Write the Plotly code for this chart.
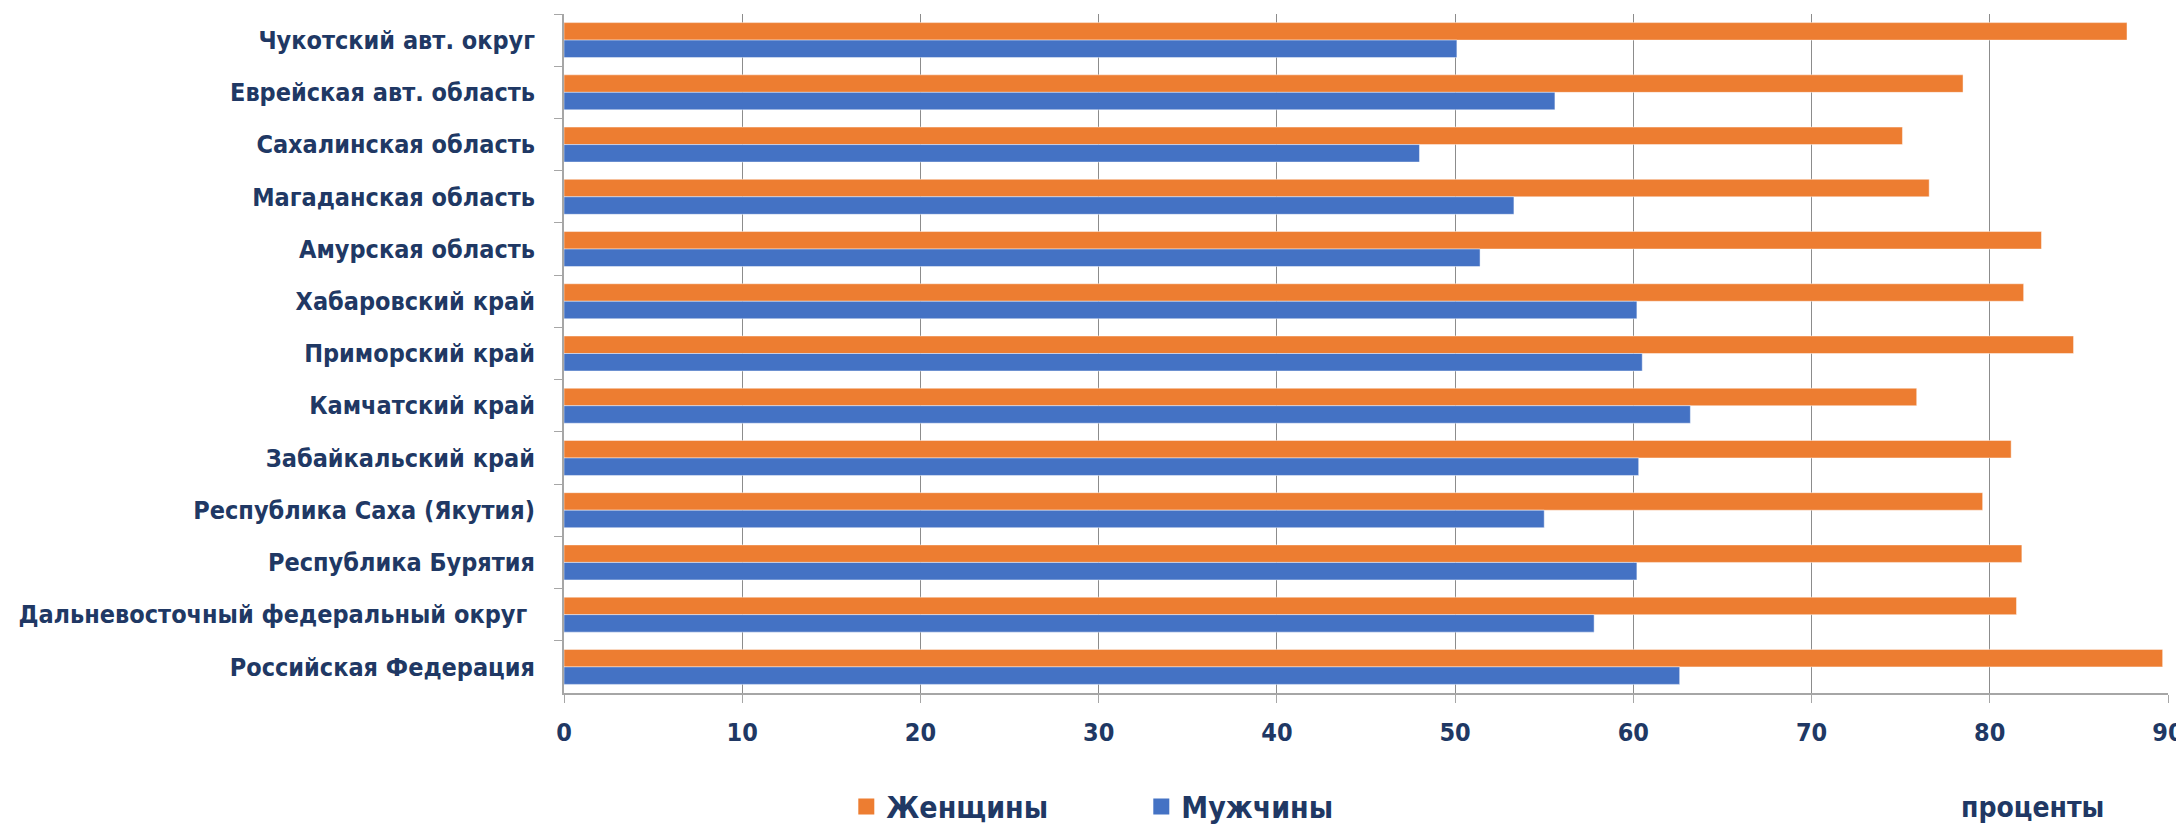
import plotly.graph_objects as go

regions = [
    "Чукотский авт. округ",
    "Еврейская авт. область",
    "Сахалинская область",
    "Магаданская область",
    "Амурская область",
    "Хабаровский край",
    "Приморский край",
    "Камчатский край",
    "Забайкальский край",
    "Республика Саха (Якутия)",
    "Республика Бурятия",
    "Дальневосточный федеральный округ ",
    "Российская Федерация",
]
women = [87.7, 78.5, 75.1, 76.6, 82.9, 81.9, 84.7, 75.9, 81.2, 79.6, 81.8, 81.5, 89.7]
men = [50.1, 55.6, 48.0, 53.3, 51.4, 60.2, 60.5, 63.2, 60.3, 55.0, 60.2, 57.8, 62.6]
x_ticks = [0, 10, 20, 30, 40, 50, 60, 70, 80, 90]
series_names = ["Женщины", "Мужчины"]
series_colors = ["#ED7D31", "#4472C4"]

NAVY = "#203864"
FONT = "Liberation Sans Narrow, Arial Narrow, DejaVu Sans Condensed, Liberation Sans, sans-serif"

fig = go.Figure()
for name, vals, col in zip(series_names, [women, men], series_colors):
    fig.add_trace(go.Bar(
        y=regions, x=vals, name=name, orientation="h", showlegend=False,
        marker=dict(color=col, line=dict(color="rgba(255,255,255,0.45)", width=1)),
    ))
# legend entries with larger square swatches
for name, col in zip(series_names, series_colors):
    fig.add_trace(go.Scatter(
        x=[None], y=[None], name=name, mode="markers",
        marker=dict(symbol="square", size=17, color=col, line=dict(width=0)),
    ))

# page body has an 8px margin, so the figure is sized to fill the rest of the window
fig.update_layout(
    width=2176, height=819,
    margin=dict(l=556, r=16, t=6, b=134, autoexpand=False),
    paper_bgcolor="white", plot_bgcolor="white",
    barmode="group", bargap=0.33, bargroupgap=0,
    font=dict(family=FONT, color=NAVY),
    legend=dict(
        orientation="h", x=0.176, xanchor="left",
        yref="container", y=0.025, yanchor="middle",
        font=dict(size=30, family=FONT, color=NAVY, weight="bold"),
        entrywidth=250, entrywidthmode="pixels",
        bgcolor="rgba(0,0,0,0)",
    ),
    showlegend=True,
)
fig.update_xaxes(
    range=[0, 90], tickvals=x_ticks,
    showgrid=True, gridcolor="#8c8c8c", gridwidth=1,
    showline=True, linecolor="#a6a6a6", linewidth=2,
    ticks="outside", ticklen=8, tickcolor="#a6a6a6",
    tickfont=dict(size=25, family=FONT, color=NAVY, weight="bold"),
    ticklabelstandoff=8, ticklabeloverflow="allow",
    zeroline=False, fixedrange=True, automargin=False,
)
fig.update_yaxes(
    autorange="reversed",
    showline=True, linecolor="#a6a6a6", linewidth=2,
    ticks="outside", ticklen=8, tickcolor="#a6a6a6", tickson="boundaries",
    tickfont=dict(size=25, family=FONT, color=NAVY, weight="bold"),
    ticklabelstandoff=22,
    showgrid=False, automargin=False,
)
fig.add_annotation(
    text="проценты", xref="paper", yref="paper", x=0.87, y=-0.169,
    xanchor="left", yanchor="middle", showarrow=False,
    font=dict(size=28, family=FONT, color=NAVY, weight="bold"),
)

fig.write_html("out.html")
